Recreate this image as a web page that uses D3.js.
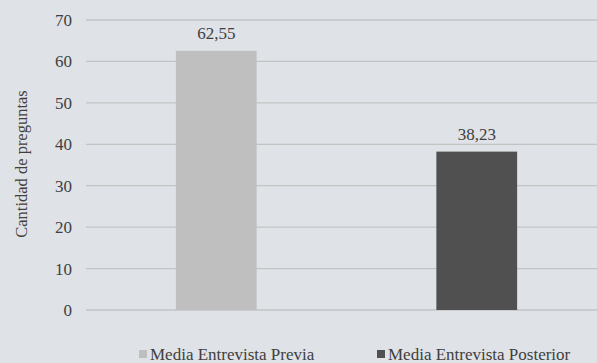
<!DOCTYPE html>
<html>
<head>
<meta charset="utf-8">
<script src="https://cdn.jsdelivr.net/npm/d3@7"></script>
<style>
  body { margin: 0; background: #dfe2e6; }
</style>
</head>
<body>
<div id="chart"></div>
<script>
// Data
const categories = ["Media Entrevista Previa", "Media Entrevista Posterior"];
const values = [62.55, 38.23];
const barColors = ["#bfbfbf", "#505050"];
const yTicks = [0, 10, 20, 30, 40, 50, 60, 70];

const width = 597, height = 363;
const fontFamily = "'Liberation Serif', 'Times New Roman', serif";
const textColor = "#404040";

const svg = d3.select("#chart")
    .append("svg")
    .attr("width", width)
    .attr("height", height);

svg.append("rect")
    .attr("width", width)
    .attr("height", height)
    .attr("fill", "#dfe2e6");

// Scales
const xScale = d3.scaleBand()
    .domain(categories)
    .range([86, 607])
    .paddingInner(0.69)
    .paddingOuter(0.345);

const yScale = d3.scaleLinear()
    .domain([0, 70])
    .range([310, 20]);

// Gridlines
svg.append("g")
    .selectAll("line")
    .data(yTicks)
    .join("line")
        .attr("x1", 86)
        .attr("x2", width)
        .attr("y1", d => yScale(d))
        .attr("y2", d => yScale(d))
        .attr("stroke", "#c3c3c3")
        .attr("stroke-width", 1.3);

// Y axis labels
const leftAxis = d3.axisLeft(yScale).tickValues(yTicks).tickSize(0).tickPadding(0);
const yAxis = svg.append("g")
    .attr("transform", "translate(72,0)")
    .call(leftAxis);
yAxis.select(".domain").remove();
yAxis.attr("font-family", null).attr("font-size", null);
yAxis.selectAll("text")
    .style("font-family", fontFamily)
    .style("font-size", "17px")
    .attr("fill", textColor);

// Bars
svg.append("g")
    .selectAll("rect")
    .data(values)
    .join("rect")
        .attr("x", (d, i) => xScale(categories[i]))
        .attr("y", d => yScale(d))
        .attr("width", xScale.bandwidth())
        .attr("height", d => yScale(0) - yScale(d))
        .attr("fill", (d, i) => barColors[i]);

// Value labels
svg.append("g")
    .selectAll("text")
    .data(values)
    .join("text")
        .attr("x", (d, i) => xScale(categories[i]) + xScale.bandwidth() / 2)
        .attr("y", d => yScale(d) - 12)
        .attr("text-anchor", "middle")
        .style("font-family", fontFamily)
        .style("font-size", "17px")
        .attr("fill", textColor)
        .text(d => d.toFixed(2).replace(".", ","));

// Y axis title
svg.append("text")
    .attr("transform", "translate(27,164) rotate(-90)")
    .attr("text-anchor", "middle")
    .style("font-family", fontFamily)
    .style("font-size", "16.5px")
    .attr("fill", textColor)
    .text("Cantidad de preguntas");

// Legend
const legendX = [139, 377];
const legend = svg.append("g")
    .selectAll("g")
    .data(categories)
    .join("g")
        .attr("transform", (d, i) => `translate(${legendX[i]},350)`);

legend.append("rect")
    .attr("width", 8)
    .attr("height", 8)
    .attr("fill", (d, i) => barColors[i]);

legend.append("text")
    .attr("x", 11)
    .attr("y", 10)
    .style("font-family", fontFamily)
    .style("font-size", "17px")
    .attr("fill", textColor)
    .text(d => d);
</script>
</body>
</html>
